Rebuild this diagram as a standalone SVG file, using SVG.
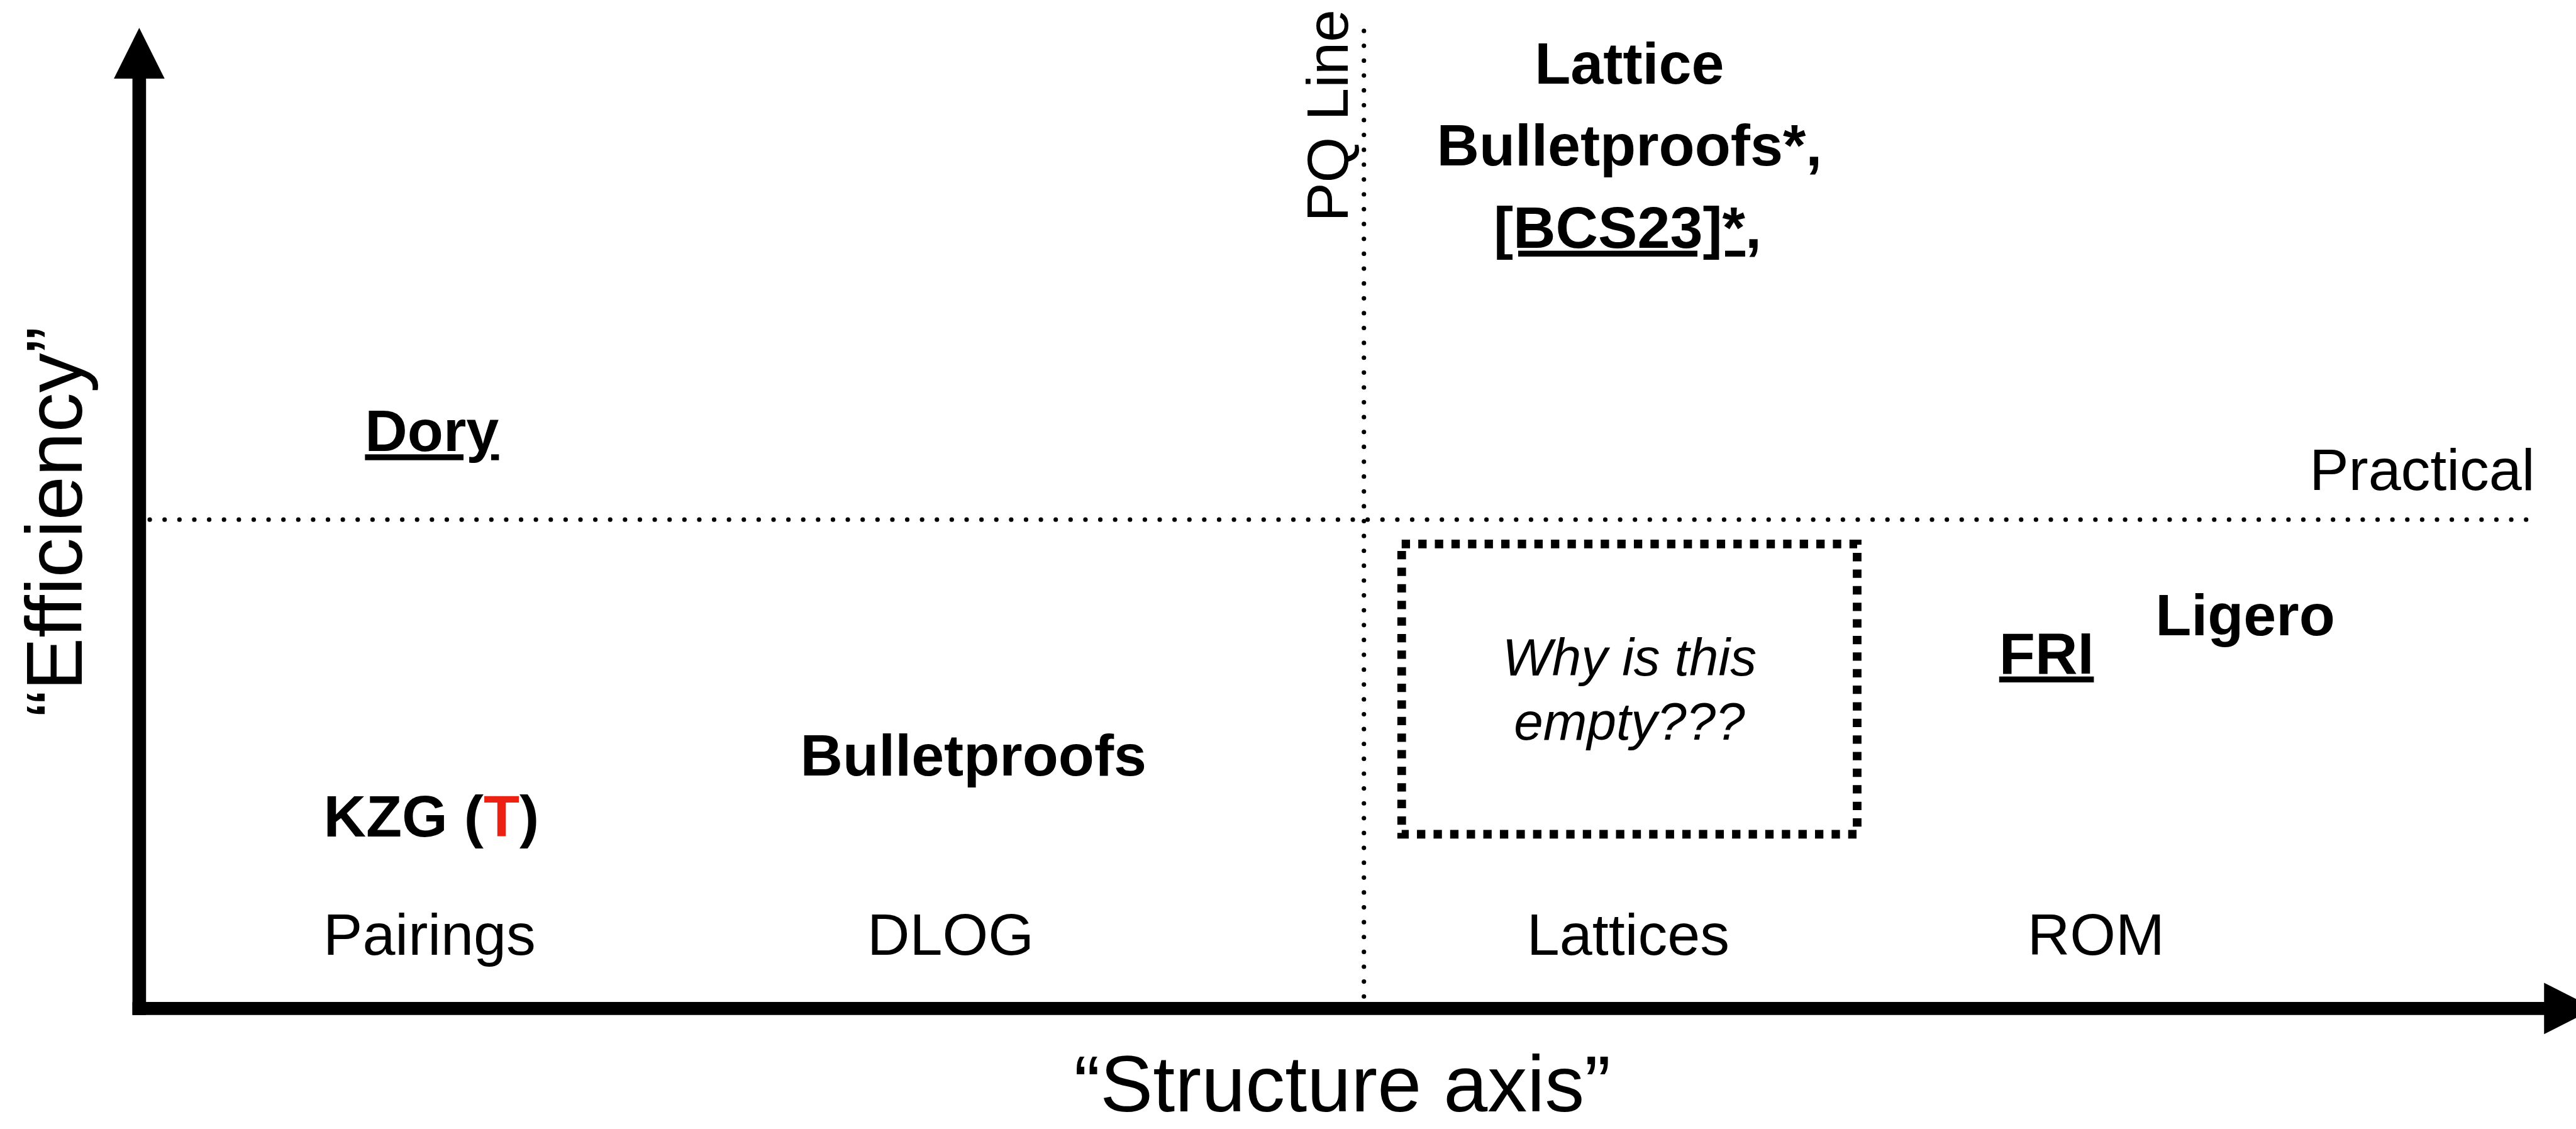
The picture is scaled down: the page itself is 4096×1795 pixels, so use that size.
<svg xmlns="http://www.w3.org/2000/svg" width="4096" height="1795" viewBox="0 0 4096 1795">
<style>
text{font-family:"Liberation Sans",Arial,sans-serif;fill:#000}
.b{font-weight:bold;font-size:95px;text-anchor:middle}
.r{font-size:95px;text-anchor:middle}
.ax{font-size:128px;text-anchor:middle}
.it{font-style:italic;font-size:85px;text-anchor:middle}
.u{text-decoration:underline;text-decoration-skip-ink:none}
.dot{stroke:#000;stroke-width:7.3;stroke-linecap:round;stroke-dasharray:0 24;fill:none}
</style>
<rect width="4096" height="1795" fill="#fff"/>
<g transform="scale(0.984)">
<g id="connectors">
<line class="dot" x1="242" y1="839.6" x2="4083" y2="839.6"/>
<line class="dot" x1="2204" y1="50" x2="2204" y2="1620"/>
<line x1="225" y1="120" x2="225" y2="1640" stroke="#000" stroke-width="22"/>
<polygon points="184,127 225,45 266,127" fill="#000"/>
<line x1="214" y1="1629.5" x2="4115" y2="1629.5" stroke="#000" stroke-width="21"/>
<polygon points="4111,1588 4193,1629.5 4111,1671" fill="#000"/>
</g>
<g id="empty-box">
<rect x="2265" y="879" width="736" height="469" fill="none" stroke="#000" stroke-width="14" stroke-dasharray="13.5 13.3"/>
<text class="it" x="2633" y="1091">Why is this</text>
<text class="it" x="2633" y="1195">empty???</text>
</g>
<g id="lattice-bp">
<text class="b" x="2633" y="135">Lattice</text>
<text class="b" x="2633" y="267">Bulletproofs*,</text>
<text class="b" x="2630" y="400"><tspan class="u">[BCS23]*</tspan>,</text>
</g>
<g id="pq-line"><text class="r" transform="translate(2178,187) rotate(-90)">PQ Line</text></g>
<g id="dory"><text class="b u" x="698" y="729">Dory</text></g>
<g id="practical"><text class="r" x="3914" y="792">Practical</text></g>
<g id="ligero"><text class="b" x="3628" y="1026">Ligero</text></g>
<g id="fri"><text class="b u" x="3307" y="1088">FRI</text></g>
<g id="bulletproofs"><text class="b" x="1573" y="1253">Bulletproofs</text></g>
<g id="kzg"><text class="b" x="697" y="1352">KZG (<tspan style="fill:#ED2112">T</tspan>)</text></g>
<g id="pairings"><text class="r" x="694" y="1543">Pairings</text></g>
<g id="dlog"><text class="r" x="1536" y="1543">DLOG</text></g>
<g id="lattices"><text class="r" x="2631" y="1543">Lattices</text></g>
<g id="rom"><text class="r" x="3387" y="1543">ROM</text></g>
<g id="efficiency"><text class="ax" transform="translate(132,843) rotate(-90)">“Efficiency”</text></g>
<g id="structure"><text class="ax" x="2169" y="1796">“Structure axis”</text></g>
</g>
</svg>
